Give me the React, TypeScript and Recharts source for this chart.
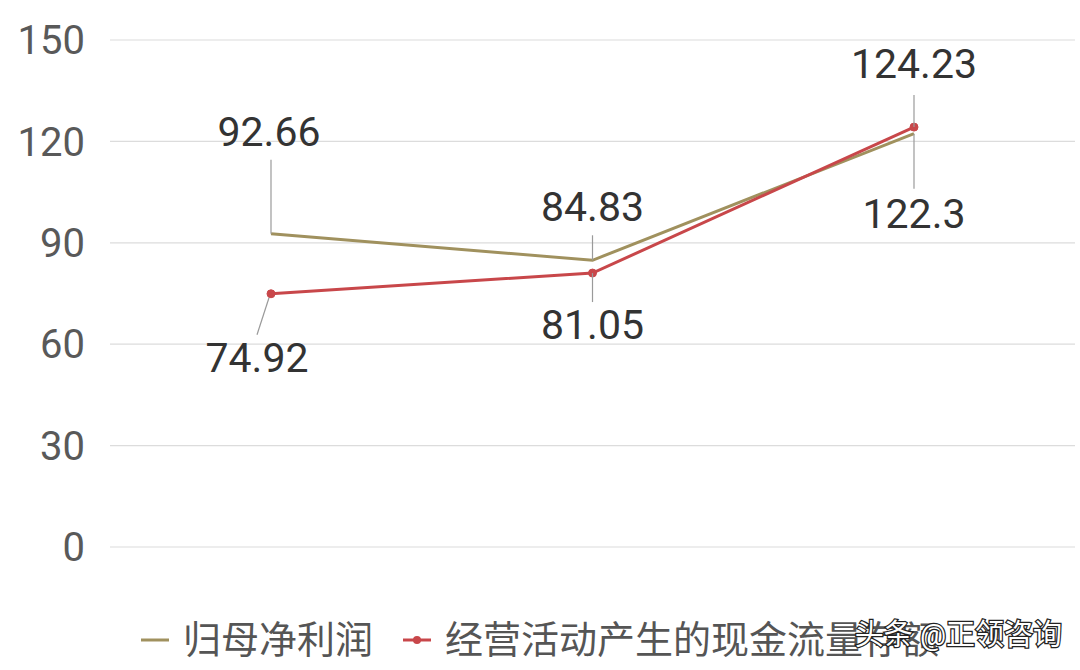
import { LineChart, Line, XAxis, YAxis, CartesianGrid, LabelList } from 'recharts';

const periods = ['第一期', '第二期', '第三期'];
const netProfit = [92.66, 84.83, 122.3];
const operatingCash = [74.92, 81.05, 124.23];
const yTicks = [0, 30, 60, 90, 120, 150];

const OLIVE = '#A0915E';
const RED = '#C8474A';
const FONT = "Roboto, 'Noto Sans CJK SC', sans-serif";

const data = periods.map((p, i) => ({
  name: p,
  profit: netProfit[i],
  cash: operatingCash[i],
}));

// label placement relative to the point: text centre + leader line
type Place = { tx: number; ty: number; x1: number; y1: number; x2: number; y2: number };
const profitPlace: Place[] = [
  { tx: -2, ty: -102, x1: 0, y1: 0, x2: 0, y2: -74 },
  { tx: 0, ty: -53, x1: 0, y1: 0, x2: 0, y2: -25 },
  { tx: 0, ty: 80, x1: 0, y1: 0, x2: 0, y2: 55 },
];
const cashPlace: Place[] = [
  { tx: -14, ty: 64, x1: -2, y1: 4, x2: -14, y2: 41 },
  { tx: 0, ty: 52, x1: 0, y1: 0, x2: 0, y2: 29 },
  { tx: 0, ty: -63, x1: 0, y1: 0, x2: 0, y2: -32 },
];

const makeLabel = (places: Place[]) => (props: any) => {
  const { x, y, value, index } = props;
  const p = places[index];
  if (!p) return null;
  return (
    <g>
      <line x1={x + p.x1} y1={y + p.y1} x2={x + p.x2} y2={y + p.y2} stroke="#9a9a9a" strokeWidth={1.2} />
      <text
        x={x + p.tx}
        y={y + p.ty}
        textAnchor="middle"
        dominantBaseline="central"
        fontSize={41}
        fill="#333"
        fontFamily={FONT}
      >
        {value}
      </text>
    </g>
  );
};

export default function App() {
  return (
    <div style={{ position: 'absolute', left: 0, top: 0, width: 1080, height: 670, background: '#fff' }}>
      <LineChart width={1080} height={670} data={data} margin={{ top: 40, right: 5, left: 0, bottom: 123 }}>
        <CartesianGrid horizontal vertical={false} stroke="#dcdcdc" strokeWidth={1.2} />
        <XAxis dataKey="name" hide padding={{ left: 161, right: 161 }} />
        <YAxis
          domain={[0, 150]}
          ticks={yTicks}
          width={110}
          axisLine={false}
          tickLine={false}
          tickSize={0}
          tickMargin={25}
          tick={{ fontSize: 40, fill: '#595959', fontFamily: FONT }}
        />
        <Line
          dataKey="profit"
          stroke={OLIVE}
          strokeWidth={3}
          dot={false}
          isAnimationActive={false}
        >
          <LabelList dataKey="profit" content={makeLabel(profitPlace)} />
        </Line>
        <Line
          dataKey="cash"
          stroke={RED}
          strokeWidth={3}
          dot={{ r: 4, fill: RED, stroke: RED, strokeWidth: 1 }}
          isAnimationActive={false}
        >
          <LabelList dataKey="cash" content={makeLabel(cashPlace)} />
        </Line>
      </LineChart>
      <div
        style={{
          position: 'absolute',
          top: 617,
          left: 0,
          width: 1080,
          display: 'flex',
          justifyContent: 'center',
          alignItems: 'center',
          fontFamily: FONT,
          fontSize: 38,
          color: '#555',
          lineHeight: '46px',
        }}
      >
        <svg width={28} height={10} style={{ marginRight: 14 }}>
          <line x1={0} y1={5} x2={28} y2={5} stroke={OLIVE} strokeWidth={3} />
        </svg>
        <span style={{ marginRight: 30 }}>归母净利润</span>
        <svg width={28} height={10} style={{ marginRight: 14 }}>
          <line x1={0} y1={5} x2={28} y2={5} stroke={RED} strokeWidth={3} />
          <circle cx={14} cy={5} r={4} fill={RED} />
        </svg>
        <span>经营活动产生的现金流量存额</span>
      </div>
      <svg style={{ position: 'absolute', left: 0, top: 0 }} width={1080} height={670}>
        <text
          x={1062}
          y={645}
          textAnchor="end"
          fontSize={29}
          fontFamily={FONT}
          fill="#fff"
          stroke="#222"
          strokeWidth={2.5}
          paintOrder="stroke"
        >
          头条 @正领咨询
        </text>
      </svg>
    </div>
  );
}
